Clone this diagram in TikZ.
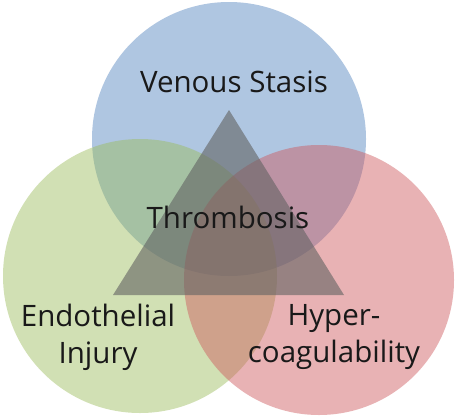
\documentclass[tikz,border=0pt]{standalone}
\usepackage{fontspec}
\setmainfont{Open Sans}
\begin{document}
\begin{tikzpicture}[x=1pt,y=-1pt,
  venn/.style={circle,minimum size=274pt,inner sep=0pt,fill opacity=0.45},
  lbl/.style={font=\fontsize{29.5}{37}\selectfont,text=black!90,align=center,inner sep=0pt}]
\useasboundingbox (0,0) rectangle (457,415);
\fill[white] (0,0) rectangle (457,415);
\node[venn,fill={rgb,255:red,79;green,129;blue,189}] (vs) at (229,139) {};
\node[venn,fill={rgb,255:red,155;green,187;blue,89}] (ei) at (140,276) {};
\node[venn,fill={rgb,255:red,205;green,85;blue,90},minimum size=270pt] (hc) at (319,280) {};
\coordinate (ta) at (229,110);
\coordinate (tl) at (113,295);
\coordinate (tr) at (344,295);
\fill[fill={rgb,255:red,98;green,98;blue,98},fill opacity=0.6] (ta) -- (tl) -- (tr) -- cycle;
\node[lbl] (t1) at (234,82) {Venous Stasis};
\node[lbl] (t2) at (228,217) {Thrombosis};
\node[lbl] (t3) at (98,337) {Endothelial\\Injury};
\node[lbl] (t4) at (334,337) {Hyper-\\coagulability};
\end{tikzpicture}
\end{document}
